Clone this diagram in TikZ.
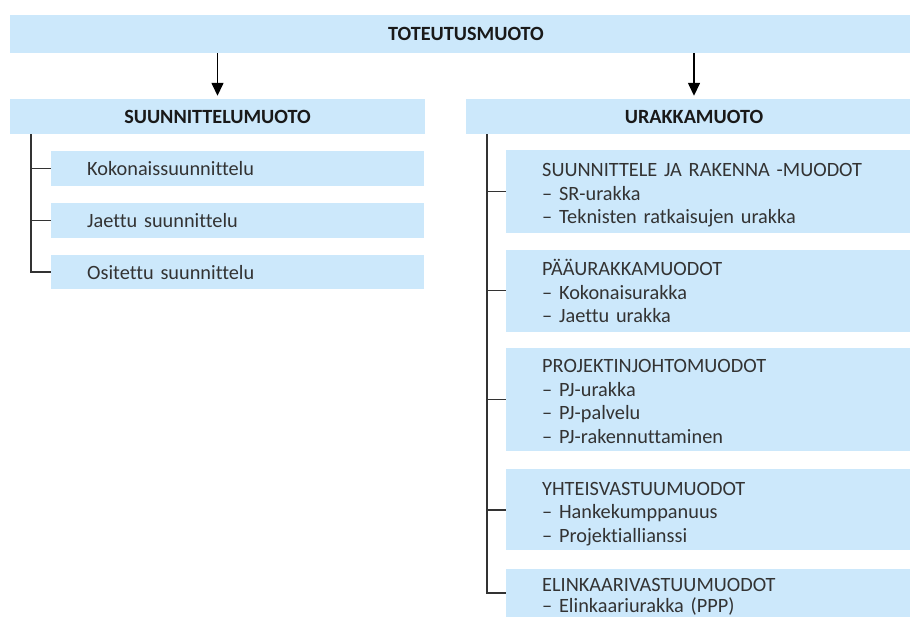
\documentclass[tikz,border=0pt]{standalone}
\usepackage{fontspec}
\setmainfont{Carlito}[Ligatures=NoCommon]
\usetikzlibrary{positioning, arrows.meta}
\definecolor{boxblue}{RGB}{204,232,251}
\definecolor{txtgray}{RGB}{51,51,51}

\begin{document}
\begin{tikzpicture} [
    x=1pt, y=-1pt,
    head/.style={rectangle, fill=boxblue, text=black!90, font=\fontsize{20.2}{23.5}\selectfont\bfseries, minimum height=35pt, inner sep=0pt},
    item/.style={rectangle, fill=boxblue, text=txtgray, font=\fontsize{20.3}{23.5}\selectfont, align=left, inner xsep=36pt, inner ysep=0pt},
    leftitem/.style={item, text width=301pt, minimum height=34.5pt},
    rightitem/.style={item, text width=344pt, execute at begin node={\rule{0pt}{22.2pt}}, execute at end node={\rule[-5pt]{0pt}{5pt}}},
    arrow/.style={->, line width=1.5pt, shorten >=3pt, >={Triangle[width=12pt,length=13pt]}},
    branch/.style={line width=1.6pt, draw=black!80}
]

% Frame of the page
\useasboundingbox (0,0) rectangle (910,617);
\clip (0,0) rectangle (910,617);

% Layer 1: headings
\node[head, minimum width=912pt, minimum height=38pt] (toteutus) at (466,34) {TOTEUTUSMUOTO};
\node[head, minimum width=415pt] (suunnittelu) at (217.5,116.5) {SUUNNITTELUMUOTO};
\node[head, minimum width=456pt] (urakka) at (694,116.5) {URAKKAMUOTO};

% Layer 2: left column
\node[leftitem, anchor=north west] (kokonais) at (51,151) {Kokonaissuunnittelu};
\node[leftitem, below=17pt of kokonais] (jaettu) {Jaettu suunnittelu};
\node[leftitem, below=17pt of jaettu] (ositettu) {Ositettu suunnittelu};

% Layer 3: right column
\node[rightitem, anchor=north west, minimum height=83pt] (sr) at (506,150) {SUUNNITTELE JA RAKENNA -MUODOT\\– SR-urakka\\– Teknisten ratkaisujen urakka};
\node[rightitem, below=16pt of sr, minimum height=82pt] (paa) {PÄÄURAKKAMUODOT\\– Kokonaisurakka\\– Jaettu urakka};
\node[rightitem, below=16pt of paa, minimum height=103pt] (pj) {PROJEKTINJOHTOMUODOT\\– PJ-urakka\\– PJ-palvelu\\– PJ-rakennuttaminen};
\node[rightitem, below=18pt of pj, minimum height=81pt] (yhteis) {YHTEISVASTUUMUODOT\\– Hankekumppanuus\\– Projektiallianssi};
\node[rightitem, below=18pt of yhteis, minimum height=48pt, font=\fontsize{20.3}{21.5}\selectfont] (elinkaari) {ELINKAARIVASTUUMUODOT\\– Elinkaariurakka (PPP)};

% Arrows
\draw[arrow] (toteutus.south -| suunnittelu.north) -- (suunnittelu.north);
\draw[arrow] (toteutus.south -| urakka.north) -- (urakka.north);

% Tree lines
\coordinate (lroot) at ([xshift=21pt]suunnittelu.south west);
\coordinate (rroot) at ([xshift=21pt]urakka.south west);
\draw[branch] (lroot) |- (ositettu.west);
\foreach \n in {kokonais, jaettu}
    \draw[branch] (lroot |- \n.west) -- (\n.west);
\draw[branch] (rroot) |- (elinkaari.west);
\foreach \n in {sr, paa, pj, yhteis}
    \draw[branch] (rroot |- \n.west) -- (\n.west);

\end{tikzpicture}
\end{document}
